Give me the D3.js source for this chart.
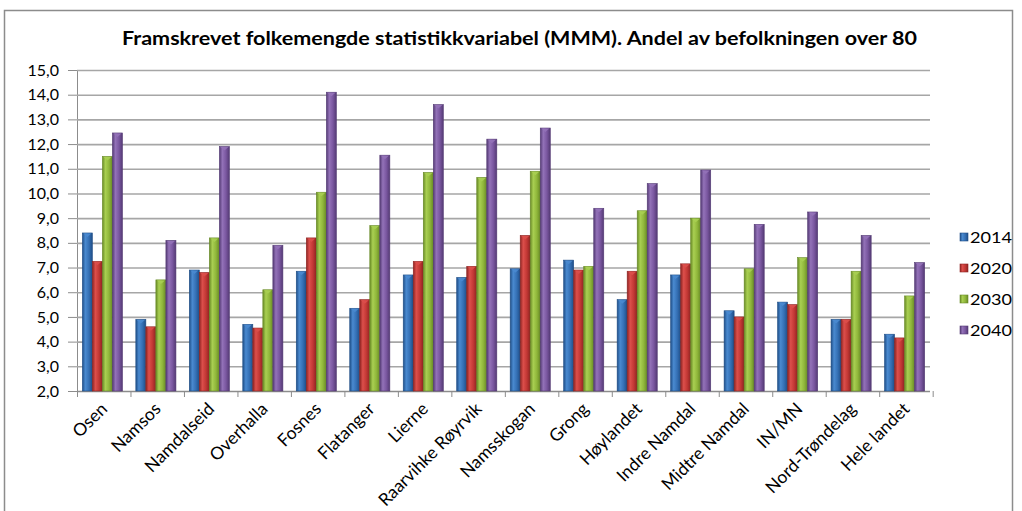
<!DOCTYPE html>
<html>
<head>
<meta charset="utf-8">
<script src="https://cdn.jsdelivr.net/npm/d3@7"></script>
<style>
	body { margin: 0; background: #fff; }
	svg { display: block; font-family: Lato, "Open Sans", sans-serif; }
</style>
</head>
<body>
<div id="wrapper"></div>
<script>
/////////////////////////////////////////////////
// data /////////////////////////////////////////
/////////////////////////////////////////////////

const categories = ["Osen", "Namsos", "Namdalseid", "Overhalla", "Fosnes", "Flatanger", "Lierne",
	"Raarvihke Røyrvik", "Namsskogan", "Grong", "Høylandet", "Indre Namdal", "Midtre Namdal",
	"IN/MN", "Nord-Trøndelag", "Hele landet"];
const years = ["2014", "2020", "2030", "2040"];
const v2014 = [8.4, 4.9, 6.9, 4.7, 6.85, 5.35, 6.7, 6.6, 6.95, 7.3, 5.7, 6.7, 5.25, 5.6, 4.9, 4.3];
const v2020 = [7.25, 4.6, 6.8, 4.55, 8.2, 5.7, 7.25, 7.05, 8.3, 6.9, 6.85, 7.15, 5.0, 5.5, 4.9, 4.15];
const v2030 = [11.5, 6.5, 8.2, 6.1, 10.05, 8.7, 10.85, 10.65, 10.9, 7.05, 9.3, 9.0, 6.95, 7.4, 6.85, 5.85];
const v2040 = [12.45, 8.1, 11.9, 7.9, 14.1, 11.55, 13.6, 12.2, 12.65, 9.4, 10.4, 10.95, 8.75, 9.25, 8.3, 7.2];
const yTicks = [2, 3, 4, 5, 6, 7, 8, 9, 10, 11, 12, 13, 14, 15];
const title = "Framskrevet folkemengde statistikkvariabel (MMM). Andel av befolkningen over 80";

const series = [v2014, v2020, v2030, v2040];
const colors = [
	{ light: "#4a8ad0", mid: "#3570b5", dark: "#1f4e87" },
	{ light: "#dc4f4b", mid: "#c33835", dark: "#8e2422" },
	{ light: "#a9cf52", mid: "#90b73b", dark: "#688a26" },
	{ light: "#9372b8", mid: "#7a57a0", dark: "#543a74" }
];

const data = categories.map((c, i) => ({
	category: c,
	values: years.map((y, j) => ({ year: y, idx: j, value: series[j][i] }))
}));

/////////////////////////////////////////////////
// dimensions ///////////////////////////////////
/////////////////////////////////////////////////

const width = 1022;
const height = 511;
const plot = { left: 77, right: 930, top: 70, bottom: 391 };

const svg = d3.select("#wrapper").append("svg")
	.attr("width", width)
	.attr("height", height);

// gradients for the bars
const defs = svg.append("defs");
colors.forEach((c, i) => {
	const g = defs.append("linearGradient")
		.attr("id", "grad" + i)
		.attr("x1", "0%").attr("x2", "100%").attr("y1", "0%").attr("y2", "0%");
	g.append("stop").attr("offset", "0%").attr("stop-color", c.dark);
	g.append("stop").attr("offset", "30%").attr("stop-color", c.light);
	g.append("stop").attr("offset", "65%").attr("stop-color", c.mid);
	g.append("stop").attr("offset", "100%").attr("stop-color", c.dark);
});

// chart frame
svg.append("rect")
	.attr("x", 4.5).attr("y", 10.5)
	.attr("width", 1008).attr("height", 520)
	.attr("fill", "#fff")
	.attr("stroke", "#8c8c8c")
	.attr("stroke-width", 1.5);

svg.append("text")
	.attr("x", 122)
	.attr("y", 45)
	.attr("textLength", 795)
	.attr("lengthAdjust", "spacingAndGlyphs")
	.style("font-size", "19px")
	.style("font-weight", "bold")
	.text(title);

/////////////////////////////////////////////////
// scales ///////////////////////////////////////
/////////////////////////////////////////////////

const x0 = d3.scaleBand()
	.domain(categories)
	.range([plot.left, plot.right])
	.paddingInner(0.25)
	.paddingOuter(0.1);

const x1 = d3.scaleBand()
	.domain(years)
	.range([0, x0.bandwidth()]);

const yScale = d3.scaleLinear()
	.domain([2, 15])
	.range([plot.bottom, plot.top]);

/////////////////////////////////////////////////
// axes /////////////////////////////////////////
/////////////////////////////////////////////////

const yAxis = svg.append("g")
	.attr("transform", `translate(${plot.left},0)`)
	.call(d3.axisLeft(yScale)
		.tickValues(yTicks)
		.tickSize(9)
		.tickPadding(9)
		.tickFormat((d) => d3.format(".1f")(d).replace(".", ",")));
yAxis.select(".domain").attr("stroke", "#8c8c8c");
yAxis.selectAll(".tick line").attr("stroke", "#8c8c8c");
yAxis.selectAll(".tick text")
	.style("font-size", "16px")
	.style("font-family", "Lato, sans-serif")
	.attr("fill", "#000");

// gridlines
svg.append("g")
	.selectAll("line")
	.data(yTicks.slice(1))
	.join("line")
	.attr("x1", plot.left)
	.attr("x2", plot.right)
	.attr("y1", (d) => yScale(d) + 0.5)
	.attr("y2", (d) => yScale(d) + 0.5)
	.attr("stroke", "#a6a6a6")
	.attr("stroke-width", 1.6);

// x axis line and ticks between categories
const xg = svg.append("g");
xg.append("line")
	.attr("x1", plot.left).attr("x2", plot.right)
	.attr("y1", plot.bottom + 0.5).attr("y2", plot.bottom + 0.5)
	.attr("stroke", "#8c8c8c").attr("stroke-width", 1.5);
xg.selectAll(".xtick")
	.data(d3.range(categories.length + 1))
	.join("line")
	.attr("class", "xtick")
	.attr("x1", (i) => plot.left + i * x0.step() + 0.5)
	.attr("x2", (i) => plot.left + i * x0.step() + 0.5)
	.attr("y1", plot.bottom)
	.attr("y2", plot.bottom + 6)
	.attr("stroke", "#8c8c8c");

xg.selectAll(".xlabel")
	.data(categories)
	.join("text")
	.attr("class", "xlabel")
	.attr("text-anchor", "end")
	.attr("transform", (d) => `translate(${x0(d) + x0.bandwidth() / 2 + 6},${plot.bottom + 19}) rotate(-45)`)
	.style("font-size", "17.5px")
	.text((d) => d);

/////////////////////////////////////////////////
// plotting /////////////////////////////////////
/////////////////////////////////////////////////

const groups = svg.append("g")
	.selectAll("g")
	.data(data)
	.join("g")
	.attr("transform", (d) => `translate(${x0(d.category)},0)`);

const bars = groups.selectAll("g")
	.data((d) => d.values)
	.join("g");

bars.append("rect")
	.attr("x", (d) => x1(d.year))
	.attr("y", (d) => yScale(d.value))
	.attr("width", x1.bandwidth())
	.attr("height", (d) => yScale(2) - yScale(d.value))
	.attr("fill", (d) => `url(#grad${d.idx})`)
	.attr("stroke", (d) => colors[d.idx].dark)
	.attr("stroke-width", 0.6);

// little bevel triangle at the top of each bar
bars.append("path")
	.attr("d", (d) => {
		const xl = x1(d.year);
		const w = x1.bandwidth();
		const yt = yScale(d.value);
		return `M${xl + 1},${yt + 0.5}L${xl + w - 1},${yt + 0.5}L${xl + w / 2},${yt + 4}Z`;
	})
	.attr("fill", (d) => colors[d.idx].light)
	.attr("opacity", 0.9);

/////////////////////////////////////////////////
// legend ///////////////////////////////////////
/////////////////////////////////////////////////

const legend = svg.append("g")
	.selectAll("g")
	.data(years)
	.join("g")
	.attr("transform", (d, i) => `translate(960,${237 + i * 31})`);

legend.append("rect")
	.attr("x", 0).attr("y", -4)
	.attr("width", 8).attr("height", 8)
	.attr("fill", (d, i) => `url(#grad${i})`)
	.attr("stroke", (d, i) => colors[i].dark)
	.attr("stroke-width", 0.6);

legend.append("text")
	.attr("x", 10)
	.attr("y", 0)
	.attr("dy", "0.35em")
	.attr("textLength", 42)
	.attr("lengthAdjust", "spacingAndGlyphs")
	.style("font-size", "16px")
	.text((d) => d);
</script>
</body>
</html>
